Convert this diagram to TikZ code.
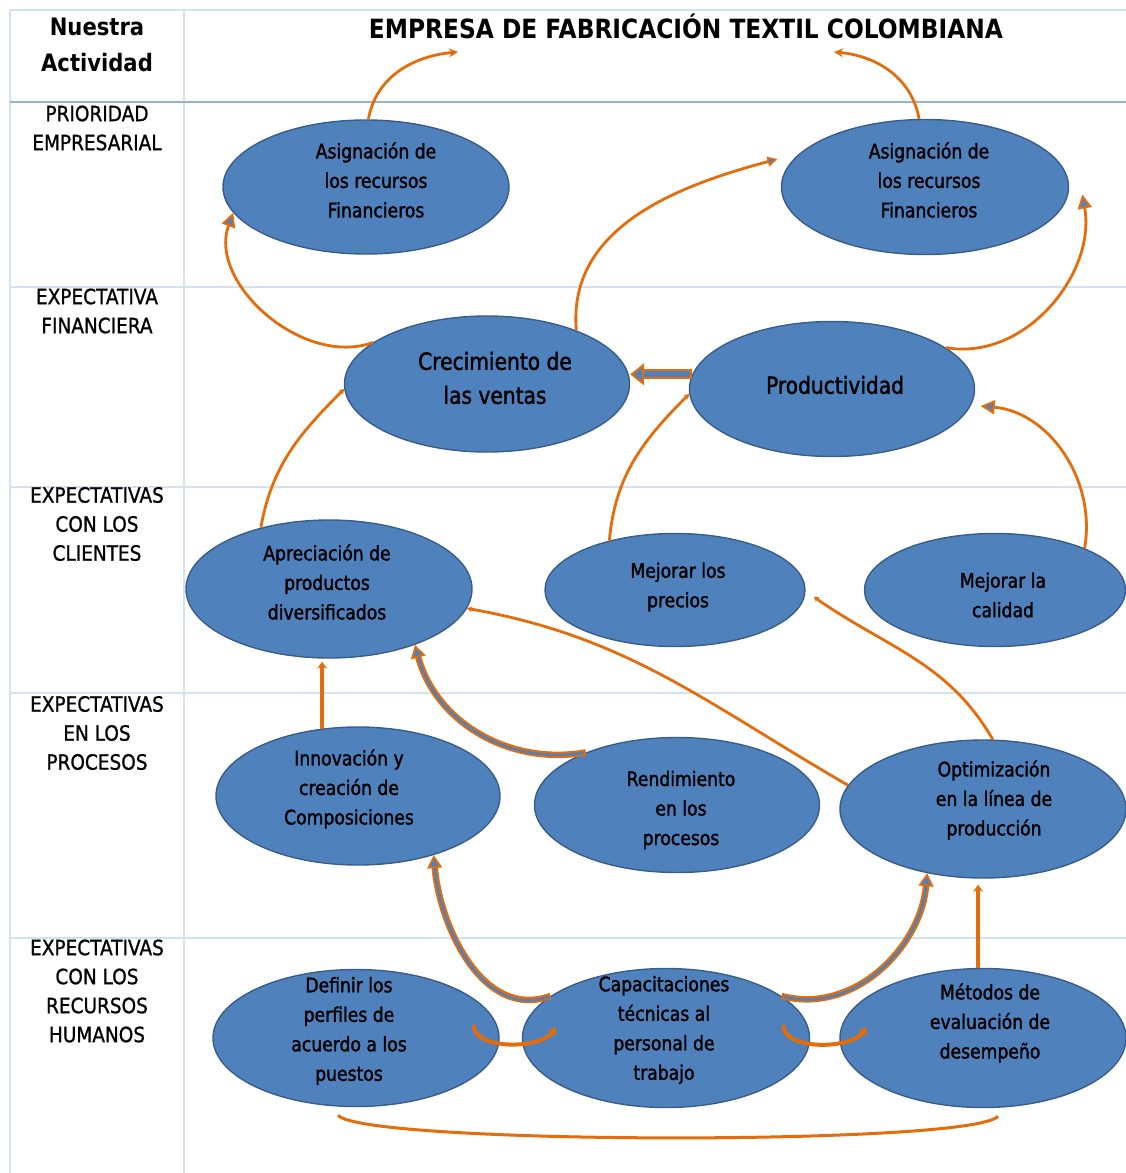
\documentclass[tikz,border=0pt]{standalone}
\usepackage{fontspec}
\setmainfont{DejaVu Sans}[FakeStretch=0.88]
\newfontfamily\etfont{DejaVu Sans}[FakeStretch=0.86, FakeBold=1.6]
\newfontfamily\lbfont{DejaVu Sans}[FakeStretch=0.88, FakeBold=1.0]
\usetikzlibrary{arrows.meta,calc,shapes.geometric}
\definecolor{ellfill}{RGB}{79,129,189}
\definecolor{ellline}{RGB}{56,93,138}
\definecolor{orng}{RGB}{228,108,10}
\definecolor{gridc}{RGB}{212,225,242}
\definecolor{gridd}{RGB}{149,179,215}
\newcommand\blkpath[1]{\draw[blkout] #1; \draw[blkin] #1;}
\begin{document}
\begin{tikzpicture}[x=1pt,y=1pt,
  ell/.style={ellipse, draw=ellline, line width=1.4pt, fill=ellfill, inner sep=0pt},
  etx/.style={align=center, inner sep=0pt, text=black, font=\etfont\fontsize{20}{29.5}\selectfont},
  big/.style={font=\etfont\fontsize{23.5}{34}\selectfont},
  lab/.style={align=center, inner sep=0pt, font=\lbfont\fontsize{21}{29}\selectfont},
  con/.style={draw=orng, line width=2.8pt},
  stip/.style={-{Stealth[length=9pt,width=9pt]}},
  ttip/.style={-{Triangle[length=14pt,width=14pt,fill=ellfill,line width=2pt]}},
  ttips/.style={-{Triangle[length=10pt,width=10pt,fill=ellfill,line width=1.6pt]}},
  tinytip/.style={-{Stealth[length=5pt,width=6pt]}},
  blkout/.style={draw=orng, line width=6.5pt, -{Triangle[length=13pt,width=15pt,fill=ellfill,line width=1.8pt]}},
  blkin/.style={draw=ellfill, line width=2.5pt, shorten >=13pt, shorten <=1.5pt},
  vert/.style={draw=orng, line width=4pt, -{Stealth[length=7pt,width=10pt]}},
  ushape/.style={draw=orng, line width=4pt, -{Stealth[length=8pt,width=11pt]}},
  gl/.style={draw=gridc, line width=1.2pt}
]
\useasboundingbox (0,0) rectangle (1126,-1173);

% grid
\draw[gl] (10,-10) -- (1126,-10);
\draw[gl] (10,-10) -- (10,-1173);
\draw[gl] (184,-10) -- (184,-1173);
\draw[draw=gridd, line width=1.3pt] (10,-102) -- (1126,-102);
\draw[gl] (10,-287) -- (1126,-287);
\draw[gl] (10,-487) -- (1126,-487);
\draw[gl] (10,-693) -- (1126,-693);
\draw[gl] (10,-938) -- (1126,-938);

% headers
\node[font=\bfseries\fontsize{24}{36}\selectfont, align=center, inner sep=0pt] (hd) at (97,-45) {Nuestra\\Actividad};
\node[font=\bfseries\fontsize{26.5}{30}\selectfont, inner sep=0pt] (title) at (686,-26) {EMPRESA DE FABRICACIÓN TEXTIL COLOMBIANA};
\node[lab] (l1) at (97,-128) {PRIORIDAD\\EMPRESARIAL};
\node[lab] (l2) at (97,-311) {EXPECTATIVA\\FINANCIERA};
\node[lab] (l3) at (97,-524) {EXPECTATIVAS\\CON LOS\\CLIENTES};
\node[lab] (l4) at (97,-733) {EXPECTATIVAS\\EN LOS\\PROCESOS};
\node[lab] (l5) at (97,-991) {EXPECTATIVAS\\CON LOS\\RECURSOS\\HUMANOS};

% ellipses
\node[ell, minimum width=286pt, minimum height=134pt] (a1) at (366,-187) {};
\node[ell, minimum width=287pt, minimum height=135pt] (a2) at (925,-187) {};
\node[ell, minimum width=285pt, minimum height=136pt] (crec) at (487,-384) {};
\node[ell, minimum width=285pt, minimum height=135pt] (prod) at (832,-389) {};
\node[ell, minimum width=286pt, minimum height=138pt] (aprec) at (329,-589) {};
\node[ell, minimum width=260pt, minimum height=113pt] (mejp) at (675,-590) {};
\node[ell, minimum width=261pt, minimum height=113pt] (mejc) at (995,-590) {};
\node[ell, minimum width=284pt, minimum height=138pt] (innov) at (358,-796) {};
\node[ell, minimum width=285pt, minimum height=135pt] (rend) at (677,-805) {};
\node[ell, minimum width=286pt, minimum height=138pt] (optim) at (983,-809) {};
\node[ell, minimum width=286pt, minimum height=137pt] (defi) at (356,-1038) {};
\node[ell, minimum width=287pt, minimum height=139pt] (capa) at (666,-1038) {};
\node[ell, minimum width=286pt, minimum height=139pt] (meto) at (983,-1038) {};

% ellipse texts
\node[etx] (a1t) at ($(a1)+(10,7)$) {Asignación de\\los recursos\\Financieros};
\node[etx] (a2t) at ($(a2)+(4,7)$) {Asignación de\\los recursos\\Financieros};
\node[etx, big] (crect) at ($(crec)+(8,6)$) {Crecimiento de\\las ventas};
\node[etx, big] (prodt) at ($(prod)+(3,4)$) {Productividad};
\node[etx] (aprect) at ($(aprec)+(-2,7)$) {Apreciación de\\productos\\diversificados};
\node[etx] (mejpt) at ($(mejp)+(3,3)$) {Mejorar los\\precios};
\node[etx] (mejct) at ($(mejc)+(8,-5)$) {Mejorar la\\calidad};
\node[etx] (innovt) at ($(innov)+(-9,7)$) {Innovación y\\creación de\\Composiciones};
\node[etx] (rendt) at ($(rend)+(4,-5)$) {Rendimiento\\en los\\procesos};
\node[etx] (optimt) at ($(optim)+(11,9)$) {Optimización\\en la línea de\\producción};
\node[etx] (defit) at ($(defi)+(-7,7)$) {Definir los\\perfiles de\\acuerdo a los\\puestos};
\node[etx] (capat) at ($(capa)+(-2,8)$) {Capacitaciones\\técnicas al\\personal de\\trabajo};
\node[etx] (metot) at ($(meto)+(7,15)$) {Métodos de\\evaluación de\\desempeño};

% free ends
\coordinate (t1) at (458,-52);
\coordinate (t2) at (834,-52);

% connectors
\draw[con, stip] (a1.88) to[out=80,in=185] (t1);
\draw[con, stip] (a2.95) to[out=100,in=-5] (t2);
\draw[con, ttip] (crec.160) to[out=200,in=-110] (a1.191);
\draw[con, ttips] (crec.31) to[out=95,in=195] ([xshift=-16pt]a2.168);
\draw[con, ttip] (prod.20) to[out=-10,in=-80] ([xshift=14pt]a2.-3);
\draw[con, tinytip] (aprec.138) to[out=80,in=225] (crec.182);
\draw[con, tinytip] (mejp.143) to[out=85,in=225] (prod.182);
\draw[con, ttip] (mejc.25) to[out=80,in=-5] ([xshift=10pt]prod.-7);
\draw[con, tinytip] (optim.170) to[out=150,in=-10] (aprec.-8);
\draw[con, tinytip] (optim.82) to[out=120,in=-35] ([xshift=9pt]mejp.-3);

% straight block arrow Productividad -> Crecimiento
\draw[draw=orng, line width=10pt, -{Triangle[length=14pt,width=22pt,fill=ellfill,line width=2pt]}] (prod.174) -- (prod.174 -| crec.east);
\draw[draw=ellfill, line width=6pt, shorten >=14pt, shorten <=2pt] (prod.174) -- (prod.174 -| crec.east);

% vertical arrows
\draw[vert, shorten >=3pt] (innov.118) -- (innov.118 |- aprec.south);
\draw[vert, shorten >=6pt] (meto.94) -- (meto.94 |- optim.south);

% curved block arrows
\blkpath{(rend.150) to[out=190,in=-75] (aprec.-33)}
\blkpath{(capa.160) to[out=200,in=-85] (innov.-38)}
\blkpath{(capa.20) to[out=-15,in=-95] (optim.-131)}

% U arrows
\draw[ushape] ($(defi.east)+(-26,13)$) to[out=-90,in=-120,looseness=0.8] ($(capa.west)+(34,11)$);
\draw[ushape] ($(capa.east)+(-27,13)$) to[out=-90,in=-120,looseness=0.8] ($(meto.west)+(27,11)$);

% bottom curve
\draw[con, line width=3pt] ($(defi.south)+(-18,-8)$) to[out=-50,in=-130,looseness=0.15] ($(meto.south)+(15,-8)$);
\end{tikzpicture}
\end{document}
